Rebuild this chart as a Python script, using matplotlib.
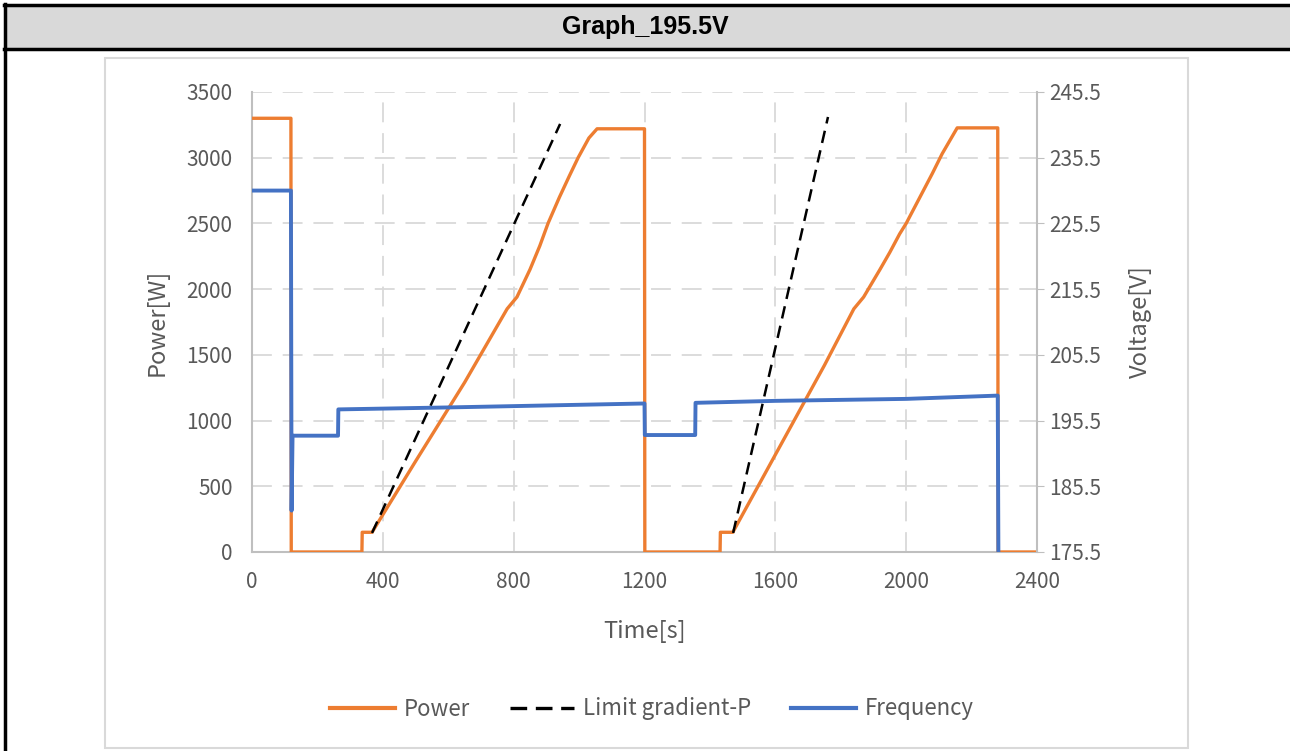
import matplotlib.pyplot as plt
from matplotlib.lines import Line2D
from matplotlib.patches import Rectangle

# data
power_t = [0, 119, 120, 336, 337, 367, 500, 650, 780, 810, 850, 880, 905, 940, 970, 997, 1030, 1055,
           1200, 1201, 1431, 1432, 1470, 1600, 1750, 1840, 1870, 1920, 1950, 1980, 2000, 2040, 2080,
           2110, 2156, 2280, 2281, 2400]
power_w = [3300, 3300, 0, 0, 150, 150, 690, 1290, 1850, 1940, 2150, 2330, 2500, 2700, 2860, 3000,
           3150, 3220, 3220, 0, 0, 150, 150, 740, 1420, 1850, 1940, 2150, 2280, 2420, 2500, 2690,
           2880, 3030, 3227, 3227, 0, 0]

limit1_t = [367, 942]
limit1_w = [145, 3257]
limit2_t = [1471, 1761]
limit2_w = [145, 3310]

freq_t = [0, 119, 121, 124, 263, 264, 600, 800, 1000, 1200, 1201, 1355, 1356, 1600, 2000, 2280, 2282]
freq_v = [230.5, 230.5, 181.8, 193.2, 193.2, 197.2, 197.5, 197.7, 197.9, 198.1, 193.3, 193.3, 198.2,
          198.5, 198.8, 199.3, 175.0]

orange = '#ED7D31'
blue = '#4472C4'
txt = '#595959'
grid = '#D9D9D9'
spine = '#BFBFBF'

plt.rcParams['font.family'] = ['Noto Sans CJK SC', 'DejaVu Sans']

fig = plt.figure(figsize=(12.9, 7.51), dpi=100)

# table header and borders
fig.patches.append(Rectangle((4 / 1290, 1 - 49 / 751), 1, 44 / 751, transform=fig.transFigure,
                             facecolor='#D9D9D9', edgecolor='none', zorder=0))
fig.add_artist(Line2D([4 / 1290, 1], [1 - 5 / 751] * 2, color='black', lw=2.5))
fig.add_artist(Line2D([4 / 1290, 1], [1 - 49 / 751] * 2, color='black', lw=2.5))
fig.add_artist(Line2D([5 / 1290] * 2, [0, 1 - 4 / 751], color='black', lw=2.5))
fig.text(0.5, 1 - 27 / 751, 'Graph_195.5V', ha='center', va='center', fontsize=18,
         fontweight='bold', family='Liberation Sans')

# chart frame
fig.patches.append(Rectangle((105 / 1290, 1 - 748 / 751), 1083 / 1290, 690 / 751,
                             transform=fig.transFigure, facecolor='none', edgecolor=grid, lw=1.5))

ax = fig.add_axes([252 / 1290, 1 - 552 / 751, 785 / 1290, 460 / 751])
ax2 = ax.twinx()

ax.plot(power_t, power_w, color=orange, lw=2.4, zorder=3)
ax.plot(limit1_t, limit1_w, color='black', lw=1.8, ls=(0, (5, 3)), zorder=4)
ax.plot(limit2_t, limit2_w, color='black', lw=1.8, ls=(0, (5, 3)), zorder=4)
ax2.plot(freq_t, freq_v, color=blue, lw=2.8)

ax.set_xlim(0, 2400)
ax.set_ylim(0, 3500)
ax2.set_ylim(175.5, 245.5)
ax.set_xticks(range(0, 2401, 400))
ax.set_yticks(range(0, 3501, 500))
ax2.set_yticks([175.5 + 10 * i for i in range(8)])
ax2.set_yticklabels([f'{175.5 + 10 * i:.1f}' for i in range(8)])

ax.grid(True, color=grid, ls=(0, (11, 6)), lw=1.3)
ax.set_axisbelow(True)

for a in (ax, ax2):
    for s in a.spines.values():
        s.set_visible(False)
ax.spines['left'].set_visible(True)
ax.spines['left'].set_color(spine)
ax.spines['bottom'].set_visible(True)
ax.spines['bottom'].set_color(spine)
ax2.spines['right'].set_visible(True)
ax2.spines['right'].set_color(spine)
for s in ('left', 'bottom'):
    ax.spines[s].set_linewidth(1.5)
ax2.spines['right'].set_linewidth(1.5)

ax.tick_params(axis='y', length=0, labelsize=15, labelcolor=txt, pad=14)
ax.tick_params(axis='x', length=0, labelsize=15, labelcolor=txt, pad=14)
ax2.tick_params(axis='y', length=5, color=spine, labelsize=15, labelcolor=txt, pad=4)
for lab in ax.get_xticklabels() + ax.get_yticklabels() + ax2.get_yticklabels():
    lab.set_fontweight('light')

ax.set_xlabel('Time[s]', fontsize=17, color=txt, labelpad=19, fontweight='light')
ax.set_ylabel('Power[W]', fontsize=17, color=txt, labelpad=13, fontweight='light')
ax2.set_ylabel('Voltage[V]', fontsize=17, color=txt, labelpad=20, fontweight='light')

handles = [Line2D([], [], color=orange, lw=3),
           Line2D([], [], color='black', lw=2.4, ls=(0, (5, 2.6))),
           Line2D([], [], color=blue, lw=3)]
fig.legend(handles, ['Power', 'Limit gradient-P', 'Frequency'], loc='center',
           bbox_to_anchor=(652 / 1290, 1 - 709 / 751), ncol=3, frameon=False,
           prop={'size': 16, 'weight': 'light'}, labelcolor=txt, handlelength=2.9,
           columnspacing=1.8, handletextpad=0.4)

fig.savefig('out.png', dpi=100)
